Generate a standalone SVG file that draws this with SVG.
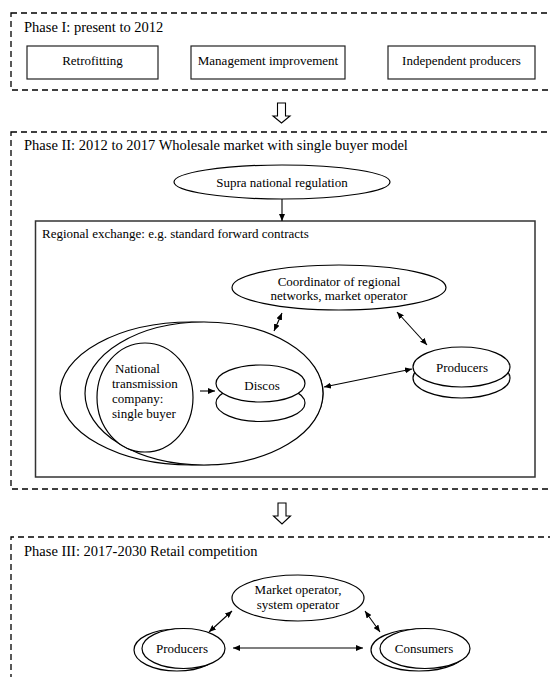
<svg xmlns="http://www.w3.org/2000/svg" width="550" height="677" viewBox="0 0 550 677">
<style>
text{font-family:"Liberation Serif","Times New Roman",serif;fill:#000;font-size:13px}
.title{font-size:14.5px}
.dash{fill:none;stroke:#000;stroke-width:1.3;stroke-dasharray:6,4}
.box{fill:#fff;stroke:#222;stroke-width:1.2}
.ell{fill:#fff;stroke:#000;stroke-width:1.2}
.con{fill:none;stroke:#000;stroke-width:1.1}
.open{fill:#fff;stroke:#000;stroke-width:1.1}
.c{text-anchor:middle}
</style>
<defs>
<marker id="ah" markerUnits="userSpaceOnUse" markerWidth="8" markerHeight="6" refX="7" refY="3" orient="auto-start-reverse">
<path d="M0,0 L7,3 L0,6 z" fill="#000"/>
</marker>
</defs>
<rect width="550" height="677" fill="#fff"/>

<g id="phase1">
<rect class="dash" x="11" y="13" width="560" height="77"/>
<text class="title" x="24" y="32">Phase I: present to 2012</text>
</g>
<g id="retrofitting">
<rect class="box" x="27" y="46" width="131" height="33"/>
<text class="c" x="92.5" y="65">Retrofitting</text>
</g>
<g id="management">
<rect class="box" x="191" y="46" width="154" height="33"/>
<text class="c" x="268" y="65">Management improvement</text>
</g>
<g id="independent">
<rect class="box" x="388" y="46" width="147" height="33"/>
<text class="c" x="461.5" y="65">Independent producers</text>
</g>

<g id="phase2">
<rect class="dash" x="11" y="132" width="560" height="357"/>
<text class="title" x="24" y="150">Phase II: 2012 to 2017 Wholesale market with single buyer model</text>
</g>
<g id="supra">
<ellipse class="ell" cx="282" cy="182" rx="108" ry="17"/>
<text class="c" x="282" y="187">Supra national regulation</text>
</g>
<g id="regional">
<rect class="box" x="35.5" y="221" width="499.5" height="256" style="stroke:#333;stroke-width:1.5"/>
<text x="42" y="238">Regional exchange: e.g. standard forward contracts</text>
</g>
<g id="coordinator">
<ellipse class="ell" cx="339" cy="287.5" rx="107" ry="22.5"/>
<text class="c" x="339" y="286">Coordinator of regional</text>
<text class="c" x="339" y="300">networks, market operator</text>
</g>
<g id="national-market">
<ellipse class="ell" cx="191.5" cy="393.5" rx="131.5" ry="71.5"/>
<ellipse class="ell" cx="204" cy="393.5" rx="119" ry="71.5"/>
</g>
<g id="ntc">
<ellipse class="ell" cx="145" cy="397.5" rx="48" ry="54.5"/>
<text x="115" y="372.5">National</text>
<text x="112" y="387.5">transmission</text>
<text x="112" y="402.5">company:</text>
<text x="112" y="417.5">single buyer</text>
</g>
<g id="discos">
<ellipse class="ell" cx="260.5" cy="403" rx="44.5" ry="18.5"/>
<ellipse class="ell" cx="260.5" cy="383.5" rx="44.5" ry="18.5"/>
<text class="c" x="262" y="390">Discos</text>
</g>
<g id="producers2">
<ellipse class="ell" cx="461.5" cy="378" rx="48.5" ry="20"/>
<ellipse class="ell" cx="461.5" cy="367" rx="48.5" ry="20"/>
<text class="c" x="462" y="372">Producers</text>
</g>

<g id="phase3">
<path class="dash" d="M11,690 V537 H560"/>
<text class="title" x="24" y="556">Phase III: 2017-2030 Retail competition</text>
</g>
<g id="operator">
<ellipse class="ell" cx="298" cy="598" rx="66" ry="23"/>
<text class="c" x="298" y="594">Market operator,</text>
<text class="c" x="298" y="609">system operator</text>
</g>
<g id="producers3">
<ellipse class="ell" cx="177" cy="650" rx="43" ry="21"/>
<ellipse class="ell" cx="183.5" cy="648.5" rx="41.5" ry="20"/>
<text class="c" x="182" y="653">Producers</text>
</g>
<g id="consumers">
<ellipse class="ell" cx="419" cy="650" rx="48" ry="21"/>
<ellipse class="ell" cx="425" cy="648.5" rx="45" ry="20"/>
<text class="c" x="424" y="653">Consumers</text>
</g>

<g id="connectors">
<path class="open" d="M277.5,103 H285.5 V116 H290 L281.5,123 L273,116 H277.5 Z"/>
<path class="open" d="M278,503 H286 V516 H290.5 L282,524 L273.5,516 H278 Z"/>
<line class="con" x1="282" y1="199" x2="282" y2="221" marker-end="url(#ah)"/>
<line class="con" x1="282" y1="313" x2="274" y2="331" marker-start="url(#ah)" marker-end="url(#ah)"/>
<line class="con" x1="397" y1="312" x2="427" y2="345" marker-start="url(#ah)" marker-end="url(#ah)"/>
<line class="con" x1="324" y1="387" x2="412" y2="369" marker-start="url(#ah)" marker-end="url(#ah)"/>
<line class="con" x1="200" y1="391" x2="215" y2="391" marker-end="url(#ah)"/>
<line class="con" x1="232" y1="611" x2="209" y2="632" marker-start="url(#ah)" marker-end="url(#ah)"/>
<line class="con" x1="365" y1="611" x2="380" y2="632" marker-start="url(#ah)" marker-end="url(#ah)"/>
<line class="con" x1="233" y1="648" x2="363" y2="648" marker-start="url(#ah)" marker-end="url(#ah)"/>
</g>
</svg>
